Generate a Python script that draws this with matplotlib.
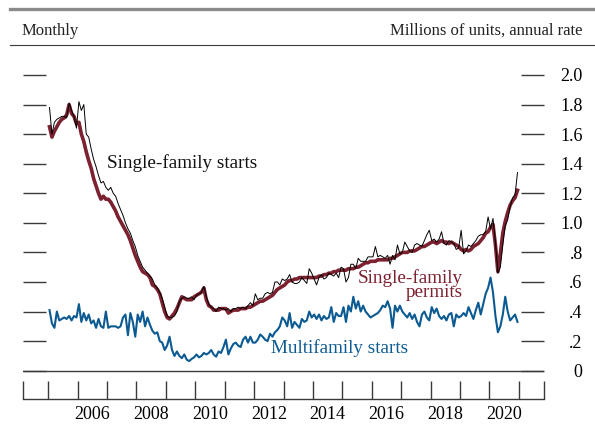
import numpy as np
import matplotlib
matplotlib.use("Agg")
import matplotlib.pyplot as plt
from matplotlib.lines import Line2D

plt.rcParams['font.family'] = ['Liberation Serif', 'DejaVu Serif']

# monthly, Jan 2005 - Dec 2020, millions of units (annual rate)
years = list(range(2005, 2021))

sf_permits = [
    1.65, 1.58, 1.62, 1.65, 1.68, 1.70, 1.71, 1.73, 1.80, 1.74, 1.72, 1.67,  # 2005
    1.68, 1.60, 1.55, 1.48, 1.42, 1.37, 1.30, 1.25, 1.20, 1.16, 1.18, 1.16,  # 2006
    1.16, 1.14, 1.11, 1.08, 1.04, 1.01, 0.98, 0.95, 0.92, 0.88, 0.83, 0.78,  # 2007
    0.74, 0.70, 0.67, 0.66, 0.65, 0.63, 0.58, 0.57, 0.55, 0.52, 0.46, 0.40,  # 2008
    0.36, 0.35, 0.37, 0.39, 0.42, 0.46, 0.50, 0.49, 0.48, 0.48, 0.48, 0.50,  # 2009
    0.51, 0.52, 0.53, 0.56, 0.48, 0.44, 0.43, 0.41, 0.41, 0.41, 0.42, 0.42,  # 2010
    0.42, 0.39, 0.40, 0.41, 0.41, 0.41, 0.42, 0.42, 0.42, 0.43, 0.43, 0.44,  # 2011
    0.45, 0.46, 0.47, 0.47, 0.48, 0.49, 0.50, 0.51, 0.53, 0.55, 0.56, 0.57,  # 2012
    0.58, 0.60, 0.61, 0.61, 0.62, 0.62, 0.63, 0.63, 0.63, 0.63, 0.63, 0.63,  # 2013
    0.63, 0.63, 0.64, 0.64, 0.65, 0.65, 0.66, 0.66, 0.67, 0.67, 0.68, 0.68,  # 2014
    0.68, 0.68, 0.69, 0.69, 0.69, 0.70, 0.70, 0.71, 0.72, 0.73, 0.73, 0.74,  # 2015
    0.74, 0.74, 0.75, 0.75, 0.75, 0.75, 0.75, 0.76, 0.76, 0.77, 0.78, 0.79,  # 2016
    0.80, 0.80, 0.80, 0.81, 0.81, 0.81, 0.82, 0.83, 0.84, 0.84, 0.85, 0.86,  # 2017
    0.87, 0.87, 0.86, 0.87, 0.88, 0.87, 0.87, 0.86, 0.87, 0.86, 0.85, 0.84,  # 2018
    0.82, 0.81, 0.82, 0.81, 0.82, 0.84, 0.85, 0.86, 0.88, 0.90, 0.93, 0.94,  # 2019
    0.97, 0.99, 0.85, 0.67, 0.79, 0.93, 1.01, 1.07, 1.12, 1.15, 1.17, 1.22,  # 2020
]

sf_starts = [
    1.78, 1.60, 1.68, 1.70, 1.71, 1.72, 1.72, 1.71, 1.81, 1.76, 1.72, 1.64,
    1.82, 1.76, 1.80, 1.60, 1.58, 1.50, 1.43, 1.38, 1.32, 1.27, 1.28, 1.24,
    1.22, 1.24, 1.20, 1.18, 1.13, 1.09, 1.05, 1.00, 0.96, 0.93, 0.88, 0.84,
    0.78, 0.74, 0.70, 0.68, 0.66, 0.64, 0.62, 0.58, 0.56, 0.53, 0.49, 0.43,
    0.37, 0.36, 0.36, 0.37, 0.40, 0.47, 0.49, 0.50, 0.49, 0.49, 0.50, 0.48,
    0.51, 0.52, 0.53, 0.57, 0.50, 0.45, 0.43, 0.42, 0.40, 0.43, 0.42, 0.42,
    0.41, 0.42, 0.40, 0.42, 0.42, 0.43, 0.42, 0.43, 0.42, 0.44, 0.46, 0.44,
    0.52, 0.48, 0.49, 0.49, 0.52, 0.53, 0.52, 0.53, 0.60, 0.60, 0.58, 0.62,
    0.61, 0.62, 0.65, 0.60, 0.59, 0.59, 0.60, 0.63, 0.61, 0.59, 0.69, 0.66,
    0.62, 0.58, 0.63, 0.65, 0.62, 0.63, 0.66, 0.65, 0.64, 0.66, 0.63, 0.70,
    0.69, 0.60, 0.63, 0.72, 0.72, 0.69, 0.76, 0.74, 0.74, 0.74, 0.77, 0.77,
    0.77, 0.84, 0.77, 0.78, 0.77, 0.76, 0.78, 0.72, 0.78, 0.75, 0.85, 0.79,
    0.80, 0.87, 0.84, 0.81, 0.80, 0.85, 0.86, 0.85, 0.84, 0.88, 0.92, 0.95,
    0.88, 0.89, 0.87, 0.89, 0.94, 0.86, 0.85, 0.88, 0.87, 0.86, 0.82, 0.83,
    0.95, 0.79, 0.81, 0.85, 0.84, 0.86, 0.88, 0.91, 0.92, 0.92, 0.94, 1.04,
    0.96, 1.03, 0.87, 0.66, 0.70, 0.85, 0.98, 1.02, 1.11, 1.17, 1.19, 1.34,
]

mf_starts = [
    0.41, 0.32, 0.29, 0.40, 0.34, 0.35, 0.36, 0.35, 0.37, 0.34, 0.37, 0.36,
    0.45, 0.33, 0.39, 0.34, 0.38, 0.32, 0.34, 0.29, 0.35, 0.30, 0.29, 0.40,
    0.29, 0.30, 0.30, 0.30, 0.29, 0.30, 0.36, 0.38, 0.24, 0.39, 0.33, 0.23,
    0.38, 0.33, 0.40, 0.30, 0.36, 0.31, 0.27, 0.25, 0.26, 0.20, 0.19, 0.14,
    0.17, 0.23, 0.14, 0.10, 0.13, 0.10, 0.085, 0.11, 0.075, 0.065, 0.08, 0.09,
    0.11, 0.09, 0.10, 0.12, 0.11, 0.12, 0.14, 0.11, 0.095, 0.13, 0.12, 0.16,
    0.21, 0.11, 0.15, 0.18, 0.19, 0.17, 0.16, 0.21, 0.23, 0.19, 0.23, 0.19,
    0.19, 0.21, 0.245, 0.23, 0.21, 0.20, 0.25, 0.23, 0.26, 0.275, 0.30, 0.36,
    0.34, 0.30, 0.39, 0.29, 0.33, 0.31, 0.29, 0.35, 0.33, 0.34, 0.40, 0.36,
    0.38, 0.35, 0.38, 0.34, 0.37, 0.35, 0.36, 0.43, 0.33, 0.39, 0.37, 0.37,
    0.43, 0.33, 0.44, 0.40, 0.50, 0.42, 0.47, 0.40, 0.44, 0.40, 0.38, 0.36,
    0.37, 0.38, 0.39, 0.41, 0.44, 0.43, 0.47, 0.42, 0.29, 0.44, 0.40, 0.44,
    0.40, 0.38, 0.36, 0.39, 0.35, 0.38, 0.33, 0.30, 0.38, 0.40, 0.36, 0.34,
    0.43, 0.39, 0.42, 0.37, 0.35, 0.37, 0.34, 0.38, 0.39, 0.30, 0.38, 0.36,
    0.37, 0.39, 0.37, 0.43, 0.39, 0.35, 0.41, 0.46, 0.38, 0.45, 0.52, 0.56,
    0.63, 0.53, 0.37, 0.26, 0.30, 0.38, 0.50, 0.40, 0.34, 0.36, 0.38, 0.33,
]

ytick_vals = [0, 0.2, 0.4, 0.6, 0.8, 1.0, 1.2, 1.4, 1.6, 1.8, 2.0]
ytick_labels = ['0', '.2', '.4', '.6', '.8', '1.0', '1.2', '1.4', '1.6', '1.8', '2.0']
xlabel_years = [2006, 2008, 2010, 2012, 2014, 2016, 2018, 2020]

RED = '#7c2130'
BLUE = '#0c5a92'
GRID = '#3a3a3a'

t = 2005 + (np.arange(len(sf_permits)) + 0.5) / 12.0

W, H = 595, 424
fig = plt.figure(figsize=(W / 100, H / 100), dpi=100)
# axes box in pixels: left 22.7, right 544.3, top 60, bottom 399.3
ax = fig.add_axes([22.7 / W, 1 - 399.3 / H, 521.6 / W, 339.3 / H])
x0, x1 = 2004.13, 2021.87
ax.set_xlim(x0, x1)
ax.set_ylim(-0.1934, 2.1014)

ax.plot(t, sf_permits, color=RED, lw=2.6, solid_joinstyle='round', zorder=3)
ax.plot(t, sf_starts, color='black', lw=0.7, zorder=4)
ax.plot(t, mf_starts, color=BLUE, lw=1.5, zorder=3)

ax.axhline(0, color=GRID, lw=1.0, zorder=1)

for s in ['top', 'left', 'right']:
    ax.spines[s].set_visible(False)
ax.spines['bottom'].set_color(GRID)
ax.spines['bottom'].set_linewidth(1.0)

# y ticks as short dashes on both sides, labels on the right
ax.set_yticks(ytick_vals)
ax.set_yticklabels(ytick_labels)
ax.tick_params(axis='y', left=True, right=True, direction='in', length=16.6,
               width=1.0, color=GRID, labelleft=False, labelright=True,
               pad=27.6, labelsize=13)
plt.setp(ax.yaxis.get_majorticklabels(), ha='right')

# x: year boundaries as ticks, labels centered in the years
ax.set_xticks([x0] + list(range(2005, 2022)) + [x1])
ax.set_xticklabels([])
ax.set_xticks([y + 0.5 for y in xlabel_years], minor=True)
ax.set_xticklabels([str(y) for y in xlabel_years], minor=True)
ax.tick_params(axis='x', which='major', direction='in', length=12.7,
               width=1.0, color=GRID)
ax.tick_params(axis='x', which='minor', length=0, pad=5, labelsize=13)

ax.text(2007.0, 1.405, 'Single-family starts', fontsize=13.8, color='#111111',
        ha='left', va='center')
ax.text(2019.1, 0.58, 'Single-family\npermits', fontsize=13.8, color=RED,
        ha='right', va='center', multialignment='right', linespacing=0.75)
ax.text(2012.57, 0.153, 'Multifamily starts', fontsize=13.8, color=BLUE,
        ha='left', va='center')

# header
fig.add_artist(Line2D([10 / W, 1], [1 - 9 / H, 1 - 9 / H], color='#8a8a8a', lw=2.4))
fig.add_artist(Line2D([10 / W, 1], [1 - 45 / H, 1 - 45 / H], color=GRID, lw=0.8))
fig.text(22 / W, 1 - 31 / H, 'Monthly', fontsize=12, ha='left', va='center', color='#222222')
fig.text(583 / W, 1 - 31 / H, 'Millions of units, annual rate', fontsize=12,
         ha='right', va='center', color='#222222')

fig.savefig('out.png', dpi=100, facecolor='white')
